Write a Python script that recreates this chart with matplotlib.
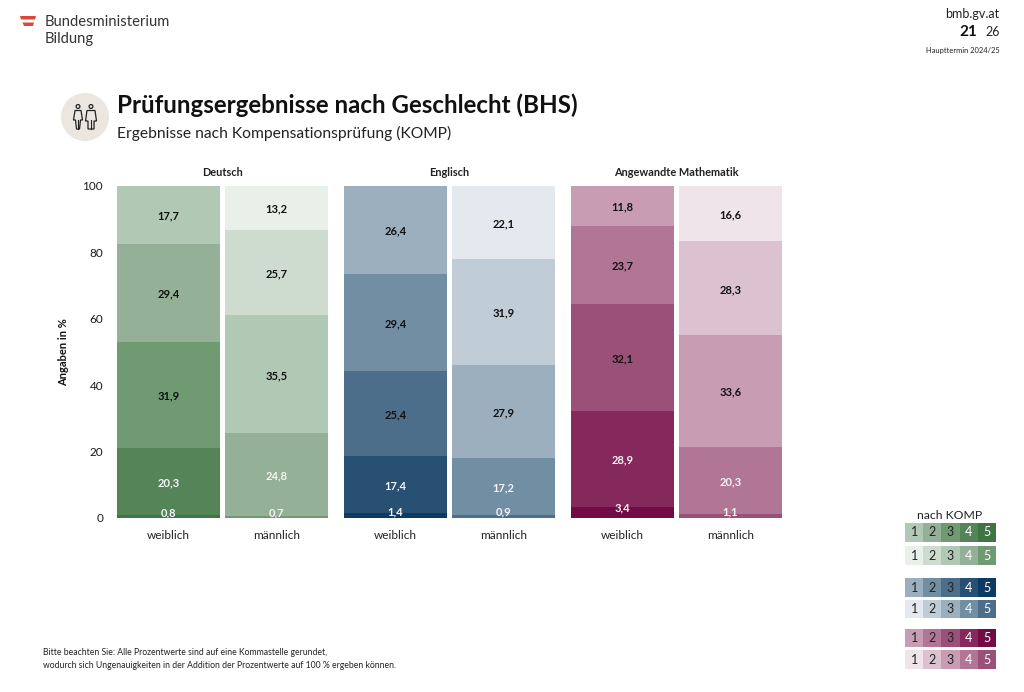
import matplotlib
matplotlib.use("Agg")
import matplotlib.pyplot as plt
from matplotlib.patches import Rectangle, Circle, Polygon

plt.rcParams['font.family'] = ['Lato', 'DejaVu Sans']

W, H = 1024, 692

# Data (bottom to top: KOMP 5, 4, 3, 2, 1)
subjects = ["Deutsch", "Englisch", "Angewandte Mathematik"]
genders = ["weiblich", "männlich"]
deutsch_w = [0.8, 20.3, 31.9, 29.4, 17.7]
deutsch_m = [0.7, 24.8, 35.5, 25.7, 13.2]
englisch_w = [1.4, 17.4, 25.4, 29.4, 26.4]
englisch_m = [0.9, 17.2, 27.9, 31.9, 22.1]
mathe_w = [3.4, 28.9, 32.1, 23.7, 11.8]
mathe_m = [1.1, 20.3, 33.6, 28.3, 16.6]
values = [[deutsch_w, deutsch_m], [englisch_w, englisch_m], [mathe_w, mathe_m]]

# Colours for KOMP 1..5
green_w = ["#b1c8b4", "#94b096", "#6f9a72", "#558459", "#3f7443"]
green_m = ["#e9f0ea", "#cedcd0", "#b1c8b4", "#94b096", "#6f9a72"]
blue_w = ["#9bafbf", "#728ea3", "#4d6e8a", "#285072", "#0d3a63"]
blue_m = ["#e3e9ee", "#c0ccd6", "#9bafbf", "#728ea3", "#4d6e8a"]
purple_w = ["#c89db3", "#b17595", "#9a5078", "#85285c", "#720a45"]
purple_m = ["#f0e4eb", "#dcc1d0", "#c89db3", "#b17595", "#9a5078"]
colors = [[green_w, green_m], [blue_w, blue_m], [purple_w, purple_m]]

yticks = [0, 20, 40, 60, 80, 100]

fig = plt.figure(figsize=(W / 100, H / 100), dpi=100, facecolor="white")

# chart area in pixels: x 117..782, y 186..518
ax = fig.add_axes([117 / W, 1 - 518 / H, 665 / W, 332 / H])
ax.set_xlim(117, 782)
ax.set_ylim(0, 100)
for s in ax.spines.values():
    s.set_visible(False)
ax.set_yticks(yticks)
ax.tick_params(axis="y", length=0, labelsize=8.5, labelcolor="#1a1a1a", pad=10)
ax.set_xticks([])
ax.set_ylabel("Angaben in %", fontsize=8, fontweight="bold", labelpad=10, color="#111111")

group_starts = [117, 344, 571]
bar_w = 103
bar_step = 108

for g, start in enumerate(group_starts):
    for b, gender in enumerate(genders):
        left = start + b * bar_step
        center = left + bar_w / 2
        bottom = 0
        vals = values[g][b]
        cols = colors[g][b][::-1]
        for i, v in enumerate(vals):
            ax.bar(center, v, width=bar_w, bottom=bottom, color=cols[i], linewidth=0)
            # the thin bottom segment has its label pushed up a bit
            y = v / 2 + 1.3 if i == 0 else bottom + v / 2 - 0.3
            txt = ("%.1f" % v).replace(".", ",")
            ax.text(center, y, txt, ha="center", va="center", fontsize=8, fontweight="bold",
                    color="#f4f4f4" if i < 2 else "#111111")
            bottom += v
        ax.text(center, -5.2, gender, ha="center", va="center", fontsize=8.5, color="#222222",
                clip_on=False)
    ax.text(start + (bar_w + bar_step) / 2, 104.1, subjects[g], ha="center", va="center",
            fontsize=7.9, fontweight="bold", color="#222222")

# overlay in pixel coordinates for header, icon, key
ov = fig.add_axes([0, 0, 1, 1], facecolor="none")
ov.set_xlim(0, W)
ov.set_ylim(H, 0)
ov.axis("off")

# logo
ov.add_patch(Polygon([(20, 16), (36, 16), (35, 19.5), (21, 19.5)], color="#d9483b", lw=0))
ov.add_patch(Polygon([(22.5, 22.5), (34, 22.5), (33, 26), (24, 26)], color="#d9483b", lw=0))
ov.text(45, 21.5, "Bundesministerium", fontsize=10.6, va="center", color="#333333")
ov.text(45, 39, "Bildung", fontsize=10.6, va="center", color="#333333")

# top right
ov.text(999.5, 14.5, "bmb.gv.at", fontsize=9, ha="right", va="center", color="#222222")
ov.text(977, 31.5, "21", fontsize=11, fontweight="bold", ha="right", va="center", color="#111111")
ov.text(999.5, 32, "26", fontsize=9, ha="right", va="center", color="#222222")
ov.text(999.5, 50, "Haupttermin 2024/25", fontsize=5.4, ha="right", va="center", color="#222222")

# icon
ov.add_patch(Circle((85, 117), 24, color="#ebe6df", lw=0))
woman = [(75, 110.5), (81, 110.5), (82.5, 120), (80.5, 120), (79.5, 129), (76.5, 129), (75.5, 120), (73.5, 120)]
man = [(87, 110.5), (95, 110.5), (96.5, 121), (94, 121), (94, 129), (88, 129), (88, 121), (85.5, 121)]
for cx, outline in ((78, woman), (91, man)):
    ov.add_patch(Circle((cx, 106.5), 1.9, fill=False, ec="#222222", lw=0.9))
    ov.add_patch(Polygon(outline, fill=False, ec="#222222", lw=0.9, closed=True))
    ov.plot([cx, cx], [120, 129], color="#222222", lw=0.8)

# titles
ov.text(117, 105, "Prüfungsergebnisse nach Geschlecht (BHS)", fontsize=17.4, fontweight="bold",
        va="center", color="#111111")
ov.text(117, 133.5, "Ergebnisse nach Kompensationsprüfung (KOMP)", fontsize=11.25,
        va="center", color="#222222")

# key
ov.text(950, 515.5, "nach KOMP", fontsize=8.8, ha="center", va="center", color="#222222")
key_rows = [(523, green_w), (546, green_m), (578, blue_w), (599.5, blue_m), (628.5, purple_w), (650, purple_m)]
cell_w = 91 / 5
for top, row in key_rows:
    for i, col in enumerate(row):
        ov.add_patch(Rectangle((905 + i * cell_w, top), cell_w, 18.5, color=col, lw=0))
        ov.text(905 + (i + 0.5) * cell_w, top + 9.5, str(i + 1), fontsize=9, ha="center", va="center",
                color="white" if i >= 3 else "#222222")

# footnote
ov.text(43, 652.5, "Bitte beachten Sie: Alle Prozentwerte sind auf eine Kommastelle gerundet,",
        fontsize=6.2, va="center", color="#222222")
ov.text(43, 665, "wodurch sich Ungenauigkeiten in der Addition der Prozentwerte auf 100 % ergeben können.",
        fontsize=6.2, va="center", color="#222222")

fig.savefig("out.png", dpi=100)
